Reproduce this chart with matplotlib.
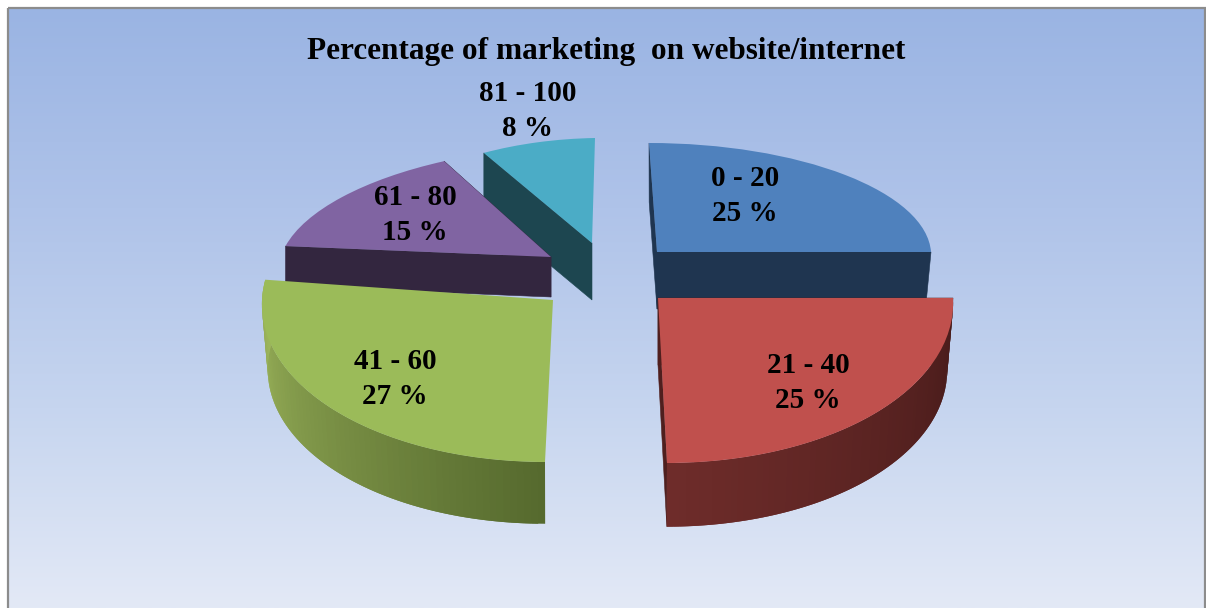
import numpy as np
import matplotlib
matplotlib.use("Agg")
import matplotlib.pyplot as plt
from matplotlib.colors import LinearSegmentedColormap
from matplotlib.patches import Polygon, Rectangle
from matplotlib.transforms import Affine2D

categories = ["0 - 20", "21 - 40", "41 - 60", "61 - 80", "81 - 100"]
values = [25, 25, 27, 15, 8]
title = "Percentage of marketing  on website/internet"

top_colors = ["#4F81BD", "#C0504D", "#9BBB59", "#8064A2", "#4BACC6"]
wall_colors = ["#1F3550", "#4F1F1E", "#5A6B30", "#33263F", "#1D4650"]
# arc-wall gradient, from the start of the sweep to its end (clockwise)
arc_grad = {1: ("#471B1A", "#6E2C2A"), 2: ("#566A2E", "#9DB65C")}

# slice placement in pixels: apex, image of the unit x and y vectors, depth
apex = [(657, 252), (658, 298), (553, 300), (551, 257), (592, 243)]
vec_a = [(274, 0), (295, 0), (291, 0), (271, -3), (230, -4)]
vec_b = [(-8, 109), (-9, 165), (8, 162), (27, 111), (3, 105)]
depth = [57, 67, 65, 40, 57]
shrink = [0.98, 0.98, 0.98, 1.0, 1.0]
# which radial walls show: low-angle edge, high-angle edge
show_walls = [(True, True), (True, True), (False, False), (True, True), (False, True)]
draw_order = [4, 0, 3, 2, 1]
label_xy = [(745, 196), (808, 383), (395, 379), (415, 215), (528, 111)]
W, H = 1206, 608

fig = plt.figure(figsize=(W / 100, H / 100), dpi=100, facecolor="white")
ax = fig.add_axes([0, 0, 1, 1])

wedges, _ = ax.pie(values, colors=top_colors, startangle=90, counterclock=False,
                   radius=1, wedgeprops={"linewidth": 0})
ax.set_aspect("auto")
ax.axis("off")

# background panel
bg = LinearSegmentedColormap.from_list("bg", ["#9AB4E3", "#AFC3E9", "#C6D5EF", "#E3E9F6"])
ax.imshow(np.linspace(0, 1, 256)[:, None], cmap=bg, extent=(8, 1205, 608, 8),
          aspect="auto", zorder=0)
ax.add_patch(Rectangle((7.5, 7.5), 1197, 620, fill=False, ec="#8C8C8C", lw=1.6, zorder=1))
ax.set_xlim(0, W)
ax.set_ylim(H, 0)


def project(i, theta, r=1.0):
    x, y = r * np.cos(np.radians(theta)), r * np.sin(np.radians(theta))
    return (apex[i][0] + vec_a[i][0] * x + vec_b[i][0] * y,
            apex[i][1] + vec_a[i][1] * x - vec_b[i][1] * y)


for z, i in enumerate(draw_order):
    base = 10 + 3 * z
    w = wedges[i]
    t1, t2 = sorted((w.theta1, w.theta2))
    m = np.array([[vec_a[i][0], vec_b[i][0], apex[i][0]],
                  [vec_a[i][1], -vec_b[i][1], apex[i][1]],
                  [0, 0, 1]], float)
    w.set_center((0, 0))
    w.set_transform(Affine2D(m) + ax.transData)
    w.set_zorder(base + 2)

    a = np.array(apex[i], float)
    down = np.array([0, depth[i]], float)
    # radial walls
    for t, show in zip((t1, t2), show_walls[i]):
        if not show:
            continue
        p = np.array(project(i, t))
        q = a + down + shrink[i] * (p - a)
        ax.add_patch(Polygon([a, p, q, a + down], closed=True, fc=wall_colors[i],
                             ec=wall_colors[i], lw=0.4, zorder=base))
    # outer arc wall with horizontal shading; each strip overlaps the next
    if i in arc_grad:
        cmap = LinearSegmentedColormap.from_list("w", arc_grad[i])
        th = np.linspace(t2, t1, 71)
        for k in range(70):
            p0 = np.array(project(i, th[k]))
            p1 = np.array(project(i, th[min(k + 2, 70)]))
            q0 = a + down + shrink[i] * (p0 - a)
            q1 = a + down + shrink[i] * (p1 - a)
            ax.add_patch(Polygon([p0, p1, q1, q0], closed=True, fc=cmap(k / 69),
                                 lw=0, zorder=base + 1))

font = {"family": "Liberation Serif", "weight": "bold", "color": "black"}
ax.text(606.5, 51, title, fontsize=22.5, ha="center", va="center", zorder=60, **font)
for name, val, (x, y) in zip(categories, values, label_xy):
    ax.text(x, y, f"{name}\n{val} %", fontsize=21, ha="center", va="center",
            linespacing=1.36, zorder=60, **font)

fig.savefig("out.png", dpi=100, facecolor="white")
